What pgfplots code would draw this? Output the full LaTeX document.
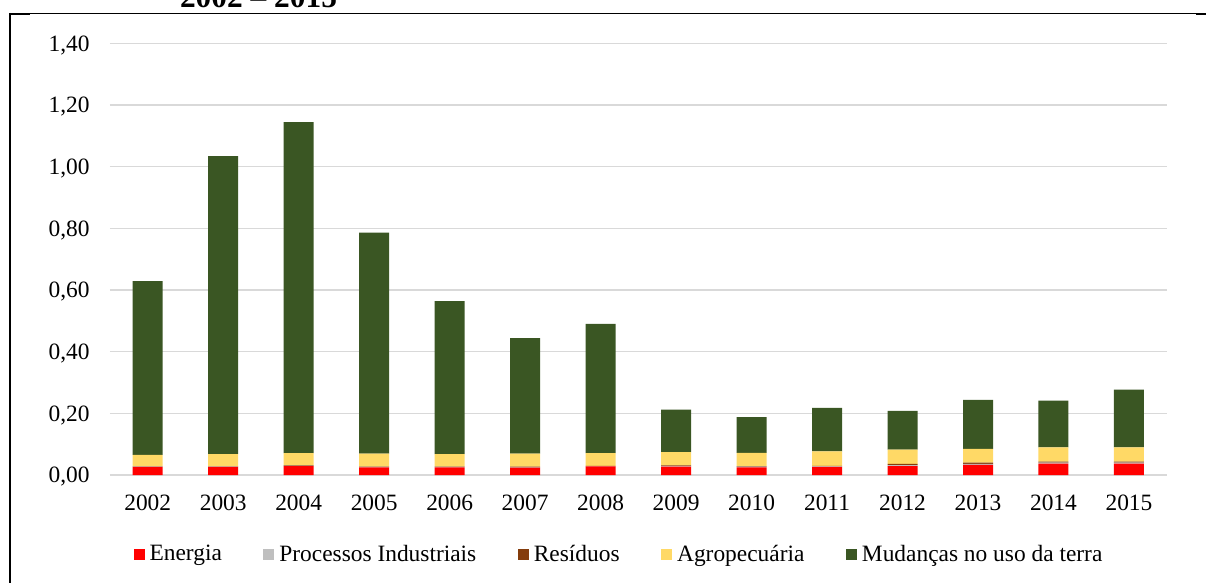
\documentclass[border=0pt]{standalone}
\usepackage{fontspec}
\setmainfont{Liberation Serif}
\usepackage{pgfplots}
\pgfplotsset{compat=1.18}

\definecolor{energia}{HTML}{FF0000}
\definecolor{processos}{HTML}{BFBFBF}
\definecolor{residuos}{HTML}{843C0C}
\definecolor{agro}{HTML}{FFD966}
\definecolor{terra}{HTML}{3A5623}
\definecolor{gridgray}{HTML}{D9D9D9}

\begin{document}
\fontsize{11.7}{14}\selectfont
\begin{tikzpicture}
\useasboundingbox (0pt,0pt) rectangle (603pt,-291.5pt);
\clip (0pt,0pt) rectangle (603pt,-291.5pt);

\begin{axis}[
  at={(55pt,-237.5pt)}, anchor=south west,
  scale only axis, width=528.35pt, height=215.85pt,
  ybar stacked, bar width=15pt,
  legend image code/.code={\fill[#1] (0pt,-2.75pt) rectangle (5.5pt,2.75pt);},
  xmin=-0.5, xmax=13.5, ymin=0, ymax=1.4,
  xtick={0,1,2,3,4,5,6,7,8,9,10,11,12,13},
  xticklabels={2002,2003,2004,2005,2006,2007,2008,2009,2010,2011,2012,2013,2014,2015},
  ytick={0,0.2,0.4,0.6,0.8,1.0,1.2,1.4},
  ymajorgrids, grid style={gridgray, line width=0.8pt},
  axis line style={draw=none}, major tick length=0pt,
  /pgf/number format/assume math mode=true,
  tick label style={font=\fontsize{11.7}{14}\selectfont},
  yticklabel style={/pgf/number format/.cd, fixed, fixed zerofill, precision=2, use comma,
    /tikz/.cd, anchor=base east, inner sep=0pt, xshift=-10pt, yshift=-3.95pt},
  xticklabel style={anchor=north, inner sep=0pt, yshift=-10pt},
  legend columns=5,
  legend style={at={(0.4831,-0.1853)}, anchor=center, draw=none, fill=none,
    inner sep=0pt, outer sep=0pt, font=\fontsize{11.7}{14}\selectfont,
    /tikz/every even column/.append style={column sep=18.25pt},
    nodes={inner xsep=2.5pt, inner ysep=0pt}},
]
% Energia
\addplot[fill=energia, draw=none] coordinates {
  (0,0.026) (1,0.026) (2,0.029) (3,0.025) (4,0.025) (5,0.024) (6,0.028)
  (7,0.027) (8,0.025) (9,0.026) (10,0.029) (11,0.033) (12,0.037) (13,0.037)};
% Processos Industriais
\addplot[fill=processos, draw=none] coordinates {
  (0,0.001) (1,0.001) (2,0.001) (3,0.001) (4,0.001) (5,0.001) (6,0.001)
  (7,0.002) (8,0.002) (9,0.002) (10,0.003) (11,0.003) (12,0.003) (13,0.003)};
% Residuos
\addplot[fill=residuos, draw=none] coordinates {
  (0,0.001) (1,0.001) (2,0.001) (3,0.001) (4,0.001) (5,0.002) (6,0.001)
  (7,0.002) (8,0.002) (9,0.002) (10,0.004) (11,0.004) (12,0.003) (13,0.003)};
% Agropecuaria
\addplot[fill=agro, draw=none] coordinates {
  (0,0.037) (1,0.040) (2,0.040) (3,0.042) (4,0.041) (5,0.042) (6,0.041)
  (7,0.043) (8,0.043) (9,0.047) (10,0.046) (11,0.045) (12,0.047) (13,0.047)};
% Mudancas no uso da terra
\addplot[fill=terra, draw=none] coordinates {
  (0,0.564) (1,0.966) (2,1.073) (3,0.717) (4,0.496) (5,0.375) (6,0.419)
  (7,0.138) (8,0.116) (9,0.141) (10,0.126) (11,0.159) (12,0.151) (13,0.187)};
\legend{Energia, Processos Industriais, Resíduos, Agropecuária, Mudanças no uso da terra}
\end{axis}

% heading above the frame
\node[anchor=base, inner sep=0pt, font=\bfseries\fontsize{15.7}{18}\selectfont]
  at (129.25pt,-3.75pt) {2002 – 2015};

% frame
\draw[line width=0.7pt] (4.5pt,-6.85pt) -- (603pt,-6.85pt);
\draw[line width=1pt] (5pt,-6.5pt) -- (5pt,-291.5pt);
\fill (4.5pt,-6.5pt) rectangle (15pt,-7.6pt);
\fill (598pt,-6.5pt) rectangle (603pt,-7.7pt);
\end{tikzpicture}
\end{document}
